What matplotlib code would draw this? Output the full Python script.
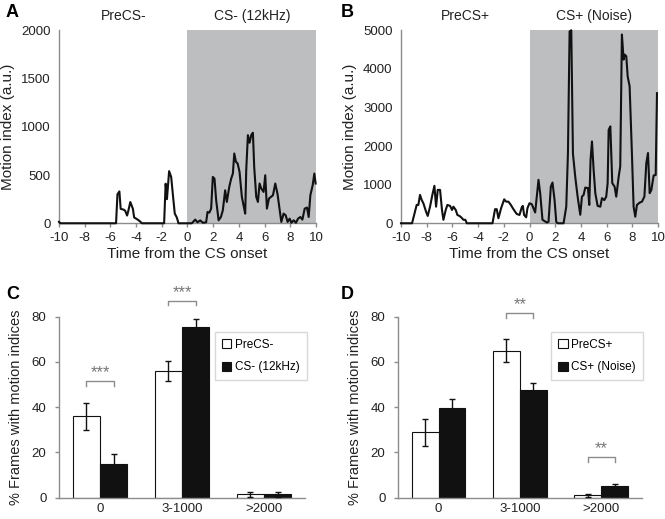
import matplotlib.pyplot as plt
import numpy as np

plt.rcParams['font.family'] = ['Liberation Sans', 'DejaVu Sans']
plt.rcParams['axes.unicode_minus'] = False

# ---- trace data ----
time_a = [-10, -9.9, -9.8, -5.56, -5.45, -5.3, -5.2, -4.95, -4.85, -4.7, -4.62, -4.45,
          -4.25, -4.15, -3.9, -3.7, -3.55, -1.82, -1.7, -1.6, -1.43, -1.27, -1.14, -0.99,
          -0.83, -0.7, 0.34, 0.6, 0.78, 0.99, 1.2, 1.45, 1.56, 1.7, 1.84, 1.97, 2.1, 2.23,
          2.42, 2.6, 2.75, 2.93, 3.06, 3.25, 3.4, 3.53, 3.64, 3.77, 3.9, 4.05, 4.23, 4.36,
          4.49, 4.57, 4.7, 4.83, 4.96, 5.09, 5.19, 5.35, 5.48, 5.61, 5.74, 5.92, 6.05, 6.18,
          6.34, 6.49, 6.65, 6.83, 7.01, 7.14, 7.3, 7.48, 7.64, 7.79, 7.95, 8.08, 8.26, 8.44,
          8.6, 8.78, 8.94, 9.12, 9.3, 9.43, 9.56, 9.74, 9.87, 9.97]
motion_a = [15, 0, 0, 0, 300, 330, 150, 140, 130, 80, 120, 220,
            150, 60, 40, 20, 0, 0, 410, 250, 540, 480, 300, 100,
            60, 0, 0, 38, 10, 30, 5, 10, 118, 110, 152, 480, 463, 240,
            31, 65, 135, 342, 221, 377, 463, 515, 723, 637, 620, 533, 273, 187,
            100, 550, 913, 834, 913, 938, 585, 273, 221, 412, 360, 325, 498, 152,
            256, 273, 290, 412, 300, 170, 14, 100, 83, 14, 48, 5, 31, 5,
            48, 65, 38, 152, 163, 65, 290, 394, 515, 412]

time_b = [-10, -9.14, -8.78, -8.65, -8.52, -8.39, -8.26, -8.05, -7.92, -7.74, -7.56, -7.4,
          -7.27, -7.14, -6.96, -6.81, -6.7, -6.52, -6.39, -6.18, -6.03, -5.92, -5.74, -5.61,
          -5.45, -5.32, -5.14, -4.99, -4.88, -2.88, -2.68, -2.55, -2.42, -2.21, -1.97, -1.82,
          -1.64, -1.45, -1.3, -1.12, -0.99, -0.78, -0.6, -0.52, -0.42, -0.26, -0.16, 0.0,
          0.18, 0.44, 0.7, 0.83, 1.01, 1.35, 1.48, 1.66, 1.79, 1.95, 2.08, 2.18, 2.65, 2.86,
          2.99, 3.12, 3.25, 3.38, 3.56, 3.74, 3.95, 4.08, 4.21, 4.34, 4.55, 4.65, 4.75, 4.86,
          4.99, 5.12, 5.3, 5.51, 5.64, 5.82, 5.97, 6.08, 6.16, 6.29, 6.44, 6.62, 6.75, 6.94,
          7.06, 7.19, 7.32, 7.4, 7.53, 7.64, 7.79, 7.97, 8.1, 8.23, 8.36, 8.57, 8.75, 8.94,
          9.09, 9.22, 9.35, 9.48, 9.66, 9.82, 9.92]
motion_b = [0, 0, 475, 475, 735, 605, 520, 300, 190, 430, 735, 970,
            430, 865, 865, 345, 90, 345, 475, 450, 345, 430, 345, 215,
            190, 155, 90, 90, 0, 0, 365, 365, 130, 390, 620, 560,
            560, 475, 390, 300, 240, 215, 415, 450, 215, 155, 390, 520,
            493, 280, 1125, 780, 90, 20, 40, 950, 1055, 600, 40, 0, 0, 430,
            1800, 4970, 5000, 1800, 1200, 700, 220, 690, 735, 925, 910, 475, 1640, 2120,
            1380, 780, 450, 430, 650, 600, 690, 1040, 2420, 2510, 1040, 950, 690, 1210,
            1470, 4890, 4240, 4370, 4330, 3800, 3550, 1800, 430, 170, 475, 535, 560, 690,
            1560, 1820, 780, 860, 1240, 1250, 3370]

# ---- bar data ----
categories = ['0', '3-1000', '>2000']
pre_minus = [36, 56, 1.5]
pre_minus_err = [6, 4.5, 1.2]
cs_minus = [15, 75.5, 1.5]
cs_minus_err = [4.5, 3.5, 1.0]
pre_plus = [29, 65, 1.0]
pre_plus_err = [6, 5, 0.5]
cs_plus = [39.5, 47.5, 5.0]
cs_plus_err = [4, 3, 1.0]

fig = plt.figure(figsize=(6.65, 5.19), dpi=100)
axis_grey = '#8c8c8c'
txt = '#222222'
shade = '#bdbec0'


def style_axes(ax):
    for s in ['top', 'right']:
        ax.spines[s].set_visible(False)
    for s in ['left', 'bottom']:
        ax.spines[s].set_color(axis_grey)
        ax.spines[s].set_linewidth(1.0)
    ax.tick_params(colors=axis_grey, labelcolor=txt, length=3, width=1)


def trace_panel(rect, t, v, ymax, ystep, pre_lab, cs_lab, letter, lx):
    ax = fig.add_axes(rect)
    style_axes(ax)
    ax.axvspan(0, 10, color=shade, lw=0, zorder=0)
    ax.plot(t, v, color='#111111', lw=1.5, clip_on=False, zorder=3)
    ax.set_xlim(-10, 10)
    ax.set_ylim(0, ymax)
    ax.set_xticks(np.arange(-10, 11, 2))
    ax.set_yticks(np.arange(0, ymax + 1, ystep))
    ax.tick_params(axis='both', labelsize=9.5)
    ax.tick_params(axis='y', length=0, pad=6)
    ax.set_xlabel('Time from the CS onset', fontsize=11, color=txt, labelpad=2)
    ax.set_ylabel('Motion index (a.u.)', fontsize=11, color=txt, labelpad=4)
    ax.text(-5, 1.04, pre_lab, transform=ax.get_xaxis_transform(), ha='center',
            va='bottom', fontsize=10, color=txt)
    ax.text(5, 1.04, cs_lab, transform=ax.get_xaxis_transform(), ha='center',
            va='bottom', fontsize=10, color=txt)
    fig.text(lx, 0.975, letter, fontsize=13, fontweight='bold', va='center')
    return ax


trace_panel([0.0887, 0.5698, 0.3865, 0.3719], time_a, motion_a, 2000, 500,
            'PreCS-', 'CS- (12kHz)', 'A', 0.008)
trace_panel([0.603, 0.5698, 0.3865, 0.3719], time_b, motion_b, 5000, 1000,
            'PreCS+', 'CS+ (Noise)', 'B', 0.512)


def bracket(ax, x0, x1, y, stars):
    ax.plot([x0, x0, x1, x1], [y - 2, y, y, y - 2], color=axis_grey, lw=1,
            clip_on=False)
    ax.text((x0 + x1) / 2, y + 0.5, stars, ha='center', va='bottom', fontsize=12,
            color='#777777', clip_on=False)


def bar_panel(rect, pre, pre_err, cs, cs_err, pre_lab, cs_lab, letter, lx, sig):
    ax = fig.add_axes(rect)
    style_axes(ax)
    x = np.arange(len(categories))
    w = 0.33
    ax.bar(x - w / 2, pre, w, color='white', edgecolor='#111111', lw=0.8,
           label=pre_lab, zorder=2)
    ax.bar(x + w / 2, cs, w, color='#111111', edgecolor='#111111', lw=0.8,
           label=cs_lab, zorder=2)
    ax.errorbar(x - w / 2, pre, yerr=pre_err, fmt='none', ecolor='#111111',
                elinewidth=1, capsize=2, capthick=1, zorder=3)
    ax.errorbar(x + w / 2, cs, yerr=cs_err, fmt='none', ecolor='#111111',
                elinewidth=1, capsize=2, capthick=1, zorder=3)
    ax.set_xlim(-0.5, 2.5)
    ax.set_ylim(0, 80)
    ax.set_yticks(np.arange(0, 81, 20))
    ax.set_xticks(x)
    ax.set_xticklabels(categories)
    ax.tick_params(axis='x', length=0, labelsize=9.5, pad=4)
    ax.tick_params(axis='y', labelsize=9.5, pad=6)
    ax.set_ylabel('% Frames with motion indices', fontsize=10.5, color=txt,
                  labelpad=6)
    leg = ax.legend(loc='upper right', bbox_to_anchor=(1.03, 0.95), fontsize=8.5,
                    frameon=True, fancybox=False, handlelength=0.8,
                    handleheight=0.8, handletextpad=0.3, labelspacing=0.9,
                    borderpad=0.6)
    leg.get_frame().set_edgecolor('#cfcfcf')
    leg.get_frame().set_linewidth(1)
    for i, y, s in sig:
        bracket(ax, i - w / 2, i + w / 2, y, s)
    fig.text(lx, 0.432, letter, fontsize=13, fontweight='bold', va='center')
    return ax


bar_panel([0.0887, 0.041, 0.37, 0.3488], pre_minus, pre_minus_err, cs_minus,
          cs_minus_err, 'PreCS-', 'CS- (12kHz)', 'C', 0.01,
          [(0, 51.5, '***'), (1, 87, '***')])
bar_panel([0.5985, 0.041, 0.3665, 0.3488], pre_plus, pre_plus_err, cs_plus,
          cs_plus_err, 'PreCS+', 'CS+ (Noise)', 'D', 0.513,
          [(1, 81.5, '**'), (2, 18, '**')])

fig.savefig('out.png', dpi=100)
